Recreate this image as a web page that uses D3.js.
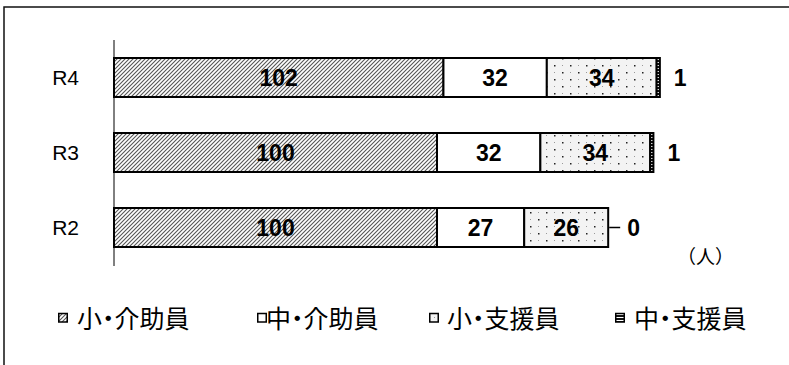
<!DOCTYPE html>
<meta charset="utf-8">
<style>
body, html { margin: 0; background: #fff; }
svg { display: block; }
.num { font-family: "Liberation Sans", Arial, sans-serif; font-weight: bold; font-size: 23px; fill: #000; }
.cat { font-family: "Liberation Sans", Arial, sans-serif; font-size: 21px; fill: #000; }
.jp { font-family: "Noto Sans CJK JP", sans-serif; fill: #000; }
.leg text { font-feature-settings: "palt"; }
</style>
<svg></svg>
<script src="https://d3js.org/d3.v7.min.js"></script>
<script>

var width = 789, height = 365;

// data
var years = ['R4', 'R3', 'R2'];
var seriesNames = ['小・介助員', '中・介助員', '小・支援員', '中・支援員'];
var shoKaijo  = [102, 100, 100];
var chuKaijo  = [32, 32, 27];
var shoShien  = [34, 34, 26];
var chuShien  = [1, 1, 0];
var unitLabel = '（人）';

var seriesVals = [shoKaijo, chuKaijo, shoShien, chuShien];
var fills = ['url(#hatch)', '#fff', 'url(#dots)', 'url(#hlines)'];

var svg = d3.select('svg').attr('width', width).attr('height', height);

// patterns
var defs = svg.append('defs');
var p1 = defs.append('pattern').attr('id', 'hatch').attr('patternUnits', 'userSpaceOnUse')
  .attr('width', 4).attr('height', 4);
p1.append('rect').attr('width', 4).attr('height', 4).attr('fill', '#fff');
p1.append('path').attr('d', 'M-1,1 L1,-1 M0,4 L4,0 M3,5 L5,3')
  .attr('stroke', '#555').attr('stroke-width', 1.1);

var p3 = defs.append('pattern').attr('id', 'dots').attr('patternUnits', 'userSpaceOnUse')
  .attr('width', 16).attr('height', 14);
p3.append('rect').attr('width', 16).attr('height', 14).attr('fill', '#f3f3f3');
p3.append('rect').attr('x', 2).attr('y', 2).attr('width', 1.5).attr('height', 1.5).attr('fill', '#222');
p3.append('rect').attr('x', 10).attr('y', 9).attr('width', 1.5).attr('height', 1.5).attr('fill', '#222');
p3.append('rect').attr('x', 10).attr('y', 2).attr('width', 1).attr('height', 1).attr('fill', '#999');
p3.append('rect').attr('x', 2).attr('y', 9).attr('width', 1).attr('height', 1).attr('fill', '#999');

var p4 = defs.append('pattern').attr('id', 'hlines').attr('patternUnits', 'userSpaceOnUse')
  .attr('width', 4).attr('height', 3);
p4.append('rect').attr('width', 4).attr('height', 3).attr('fill', '#fff');
p4.append('rect').attr('width', 4).attr('height', 2).attr('fill', '#111');

// outer frame
svg.append('rect')
  .attr('x', 4).attr('y', 7).attr('width', 800).attr('height', 400)
  .attr('fill', 'none').attr('stroke', '#111').attr('stroke-width', 1.5);

var x = d3.scaleLinear().domain([0, 200]).range([114, 760]);
var y = d3.scaleBand().domain(years).range([40, 265])
  .paddingInner(0.48).paddingOuter(0.24);

// axis line
svg.append('line')
  .attr('x1', x(0)).attr('x2', x(0))
  .attr('y1', 40).attr('y2', 266)
  .attr('stroke', '#000').attr('stroke-width', 1);

// stacked data
var rows = years.map(function (yr, i) {
  var acc = 0;
  return seriesVals.map(function (s, k) {
    var seg = { year: yr, k: k, v: s[i], x0: acc, x1: acc + s[i] };
    acc += s[i];
    return seg;
  });
});

var bars = svg.append('g');
rows.forEach(function (segs) {
  bars.selectAll(null)
    .data(segs.filter(function (d) { return d.v > 0; }))
    .enter().append('rect')
    .attr('x', function (d) { return x(d.x0); })
    .attr('y', function (d) { return y(d.year); })
    .attr('width', function (d) { return x(d.x1) - x(d.x0); })
    .attr('height', y.bandwidth())
    .attr('fill', function (d) { return fills[d.k]; })
    .attr('stroke', '#000').attr('stroke-width', 2);
});

// labels inside
rows.forEach(function (segs) {
  svg.selectAll(null)
    .data(segs.slice(0, 3))
    .enter().append('text')
    .attr('class', 'num')
    .attr('x', function (d) { return (x(d.x0) + x(d.x1)) / 2; })
    .attr('y', function (d) { return y(d.year) + y.bandwidth() / 2; })
    .attr('text-anchor', 'middle')
    .attr('dominant-baseline', 'central')
    .text(function (d) { return d.v; });
});

// labels of the small last segment
rows.forEach(function (segs) {
  var d = segs[3];
  var cy = y(d.year) + y.bandwidth() / 2;
  var tx = x(d.x1) + 14;
  if (d.v === 0) {
    svg.append('line')
      .attr('x1', x(d.x1) + 1).attr('x2', x(d.x1) + 12)
      .attr('y1', cy).attr('y2', cy)
      .attr('stroke', '#000').attr('stroke-width', 1.5);
    tx = x(d.x1) + 19;
  }
  svg.append('text').attr('class', 'num')
    .attr('x', tx).attr('y', cy)
    .attr('dominant-baseline', 'central')
    .text(d.v);
});

// category labels
svg.selectAll(null)
  .data(years)
  .enter().append('text')
  .attr('class', 'cat')
  .attr('x', 79)
  .attr('y', function (d) { return y(d) + y.bandwidth() / 2; })
  .attr('text-anchor', 'end')
  .attr('dominant-baseline', 'central')
  .text(function (d) { return d; });

// unit
svg.append('text').attr('class', 'jp')
  .attr('x', 677).attr('y', 264)
  .style('font-size', '19px')
  .text(unitLabel);

// legend
var legX = [58, 257, 429, 615];
var legTextX = [77, 266, 447, 634];
var leg = svg.selectAll('.leg')
  .data(seriesNames)
  .enter().append('g')
  .attr('class', 'leg');
leg.append('rect')
  .attr('x', function (d, i) { return legX[i] + 0.75; })
  .attr('y', 313.5).attr('width', 8.5).attr('height', 8.5)
  .attr('fill', function (d, i) { return fills[i]; })
  .attr('stroke', '#000').attr('stroke-width', 1.5);
leg.append('text').attr('class', 'jp')
  .attr('x', function (d, i) { return legTextX[i]; })
  .attr('y', 328)
  .style('font-size', '25px')
  .text(function (d) { return d; });

</script>
